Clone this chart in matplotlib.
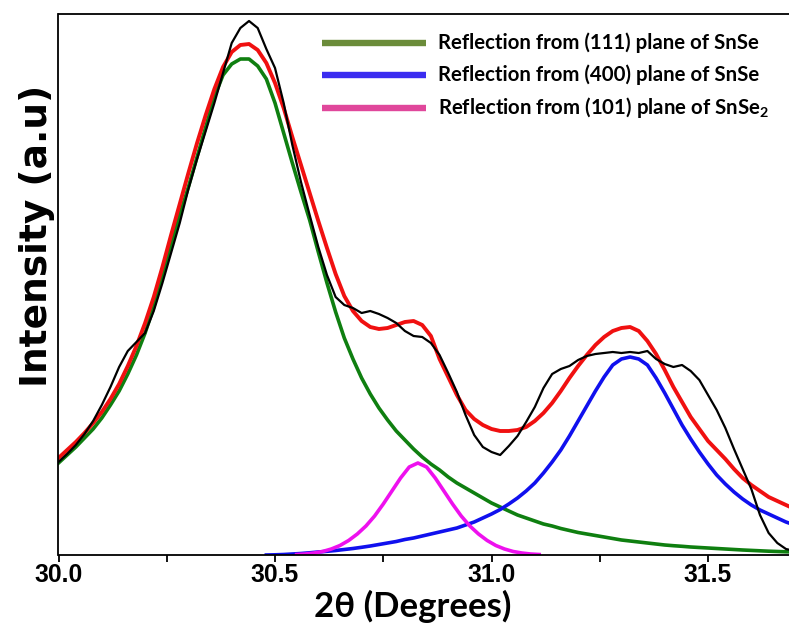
import numpy as np
import matplotlib
matplotlib.use("Agg")
import matplotlib.pyplot as plt
from matplotlib.lines import Line2D

# ---------------- data ----------------
# common 2-theta sampling for the observed pattern, the (111) peak and the total fit
two_theta = np.round(np.arange(30.00, 31.7201, 0.02), 2)

observed = [93, 101, 110, 121, 134, 150, 168, 188, 204, 213,
            222, 244, 272, 302, 332, 366, 396, 424, 452, 482,
            512, 527, 534, 527, 506, 487, 452, 410, 373, 340,
            308, 280, 258, 250, 247, 242, 244, 241, 237, 232,
            224, 219, 218, 212, 200, 182, 163, 140, 120, 108,
            103, 100, 109, 119, 133, 148, 167, 181, 186, 189,
            195, 199, 201, 202, 203, 202, 203, 202, 204, 196,
            191, 188, 190, 184, 175, 160, 145, 127, 106, 86,
            66, 40, 22, 12, 6, 4, 3]

peak_111_snse = [92, 100, 108, 117, 126, 137, 150, 164, 181, 200,
                 222, 248, 278, 309, 340, 368, 398, 428, 458, 480,
                 491, 496, 496, 489, 476, 452, 422, 392, 363, 335,
                 303, 272, 243, 217, 196, 177, 161, 147, 135, 124,
                 115, 106, 98, 91, 85, 78, 72, 67, 62, 57,
                 52, 48, 44, 40, 37, 34, 31, 29, 26.5, 24.5,
                 22.5, 21, 19.5, 18, 16.5, 15, 14, 13, 12, 11,
                 10, 9.3, 8.7, 8, 7.5, 7, 6.5, 6, 5.5, 5,
                 4.6, 4.2, 3.8, 3.5, 3.2, 3.0, 2.8]

fit_total = [97, 105, 113, 122, 132, 143, 156, 171, 189, 209,
             232, 258, 288, 320, 351, 382, 412, 440, 466, 488,
             503, 510, 511, 505, 492, 472, 447, 418, 390, 362,
             334, 307, 281, 259, 244, 234, 228, 226, 227, 230,
             233, 234, 230, 219, 196, 178, 160, 145, 136, 130,
             126, 124, 124, 125, 128, 134, 142, 152, 164, 177,
             189, 200, 210, 218, 224, 227, 228, 224, 214, 201,
             185, 168, 153, 138, 126, 114, 105, 96, 86, 77,
             70, 64, 58, 54, 50, 46, 43]

theta_400 = np.round(np.arange(30.48, 31.7201, 0.02), 2)
peak_400_snse = [0, 0.2, 0.5, 1, 1.5, 2.2, 3, 3.7, 4.5, 5.5,
                 6.5, 7.7, 9, 10.5, 12, 13.5, 15.5, 17, 19, 21,
                 23, 25, 27, 30, 33, 37, 41, 45.5, 51, 57,
                 64, 72, 82, 93, 105, 119, 134, 149, 164, 178,
                 190, 196, 198, 196, 190, 177, 162, 146, 130, 116,
                 103, 91, 80, 71, 63, 56, 50, 45, 41, 37,
                 33, 30, 27]

theta_101 = np.round(np.arange(30.55, 31.1101, 0.02), 2)
peak_101_snse2 = [0.5, 1, 2, 3.5, 6, 9.5, 14.5, 21, 29, 39,
                  51, 64, 77, 88, 92, 88, 77, 64, 51, 39,
                  29, 21, 14.5, 9.5, 6, 3.5, 2, 1, 0.5]

x_ticks = [30.0, 30.5, 31.0, 31.5]
x_tick_labels = ["30.0", "30.5", "31.0", "31.5"]
x_minor_ticks = [30.25, 30.75, 31.25]

legend_labels = ["Reflection from (111) plane of SnSe",
                 "Reflection from (400) plane of SnSe",
                 r"Reflection from (101) plane of SnSe$_\mathbf{2}$"]
legend_colors = ["#6b8c3a", "#3a2cf0", "#e0479b"]

# ---------------- figure ----------------
plt.rcParams["mathtext.fontset"] = "custom"
plt.rcParams["mathtext.bf"] = "Lato:bold"
plt.rcParams["mathtext.rm"] = "Lato"

W, H = 789, 628
fig = plt.figure(figsize=(W / 100, H / 100), dpi=100)
ax = fig.add_axes([58.5 / W, 73 / H, 730.5 / W, 541 / H])

ax.plot(two_theta, peak_111_snse, color="#0f7f10", lw=2.6)
ax.plot(theta_400, peak_400_snse, color="#1010ee", lw=2.6)
ax.plot(theta_101, peak_101_snse2, color="#ee10ee", lw=2.6)
ax.plot(two_theta, fit_total, color="#f01010", lw=2.8)
ax.plot(two_theta, observed, color="black", lw=1.6)

ax.set_xlim(30.0, 31.687)
ax.set_ylim(0, 541)
ax.set_yticks([])
ax.set_xticks(x_ticks)
ax.set_xticklabels(x_tick_labels, fontfamily="Liberation Sans", fontweight="bold", fontsize=17.8)
ax.set_xticks(x_minor_ticks, minor=True)
ax.tick_params(axis="x", which="both", direction="out", length=5, width=1.3, pad=1)

for s in ["left", "bottom", "top"]:
    ax.spines[s].set_linewidth(1.3)
ax.spines["right"].set_visible(False)

ax.set_xlabel("2θ (Degrees)", fontfamily=["Lato", "DejaVu Sans"], fontweight="bold", fontsize=25)
ax.xaxis.set_label_coords(0.485, -0.096)
ax.xaxis.label.set_va("center")

ax.set_ylabel("Intensity (a.u)", fontfamily=["DejaVu Sans"], fontweight="bold", fontsize=27)
ax.yaxis.set_label_coords(-0.030, 0.589)
ax.yaxis.label.set_va("center")
ax.yaxis.label.set_ha("center")

# legend (drawn row by row to match the reference placement)
row_y = [43, 75, 108]
for lab, col, py in zip(legend_labels, legend_colors, row_y):
    yf = 1 - py / H
    fig.add_artist(Line2D([322 / W, 426 / W], [yf, yf], transform=fig.transFigure,
                          color=col, lw=4.6, solid_capstyle="butt"))
    fig.text(438 / W, yf, lab, fontfamily=["Lato", "DejaVu Sans"], fontweight="bold",
             fontsize=14.7, va="center", ha="left")

fig.savefig("out.png", dpi=100)
